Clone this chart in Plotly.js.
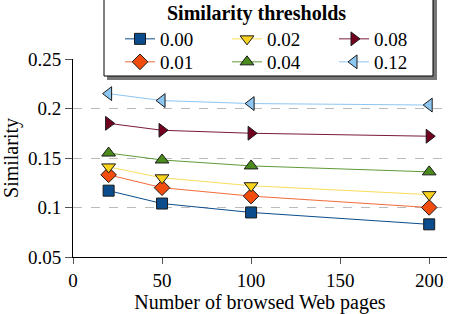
<!DOCTYPE html>
<html><head><meta charset="utf-8">
<script src="https://cdn.plot.ly/plotly-3.0.1.min.js"></script>
<style>html,body{margin:0;padding:0;background:#fff}#chart{width:450px;height:314px}</style>
</head><body><div id="chart"></div>
<script>
var pages = [20, 50, 100, 200];
var thresholds = ["0.00", "0.01", "0.02", "0.04", "0.08", "0.12"];
var sim000 = [0.117, 0.104, 0.095, 0.083];
var sim001 = [0.133, 0.120, 0.1115, 0.100];
var sim002 = [0.141, 0.130, 0.122, 0.113];
var sim004 = [0.155, 0.148, 0.142, 0.136];
var sim008 = [0.185, 0.178, 0.175, 0.172];
var sim012 = [0.215, 0.208, 0.205, 0.2035];

var seriesValues = [sim000, sim001, sim002, sim004, sim008, sim012];
var fills = ["#0a4c8c", "#f24d0f", "#f9d21d", "#4b8b1e", "#74001f", "#8ec6f2"];
var lines = ["#0a4c8c", "#f26b3a", "#f9dd5a", "#5f9a3a", "#7a1a3a", "#8ec6f2"];
var symbols = ["square", "diamond", "triangle-down", "triangle-up", "triangle-right", "triangle-left"];
var sizes = [11, 12, 12, 12, 12, 12];
var legendRow = ["legend", "legend2", "legend", "legend2", "legend", "legend2"];

var traces = seriesValues.map(function(v, i) {
  return {
    x: pages, y: v, name: thresholds[i], type: "scatter", mode: "lines+markers",
    line: {color: lines[i], width: 1},
    marker: {symbol: symbols[i], size: sizes[i], color: fills[i], line: {color: "#1a1a1a", width: 1}},
    legend: legendRow[i]
  };
});

var font = "Liberation Serif";
var fs = 19;
// pixel -> paper helpers for the legend frame (plot area: x 73..447, y 59..257)
function px(x) { return (x - 73) / 374; }
function py(y) { return (257 - y) / 198; }
function rowLegend(yc) {
  return {
    orientation: "h", x: px(120), xanchor: "left", y: py(yc), yanchor: "middle",
    bgcolor: "rgba(0,0,0,0)", borderwidth: 0,
    entrywidth: 62, entrywidthmode: "pixels",
    font: {family: font, size: 19}
  };
}
var layout = {
  width: 450, height: 314,
  margin: {l: 73, r: 3, t: 59, b: 57, autoexpand: false},
  paper_bgcolor: "#fff", plot_bgcolor: "#fff",
  font: {family: font, size: fs, color: "#000"},
  showlegend: true,
  xaxis: {
    range: [0, 210], tickvals: [0, 50, 100, 150, 200], ticktext: ["0", "50", "100", "150", "200"],
    showline: true, linecolor: "#000", linewidth: 1, ticks: "outside", ticklen: 6, tickcolor: "#555",
    showgrid: false, zeroline: false, automargin: false,
    title: {text: "Number of browsed Web pages", font: {family: font, size: 20}, standoff: 3}
  },
  yaxis: {
    range: [0.05, 0.25], tickvals: [0.05, 0.1, 0.15, 0.2, 0.25], ticktext: ["0.05", "0.1", "0.15", "0.2", "0.25"],
    showline: true, linecolor: "#000", linewidth: 1, ticks: "outside", ticklen: 7, tickcolor: "#555",
    showgrid: true, gridcolor: "#bbb", griddash: "dash", gridwidth: 1, zeroline: false, automargin: false,
    title: {text: "Similarity", font: {family: font, size: 20}, standoff: 5}
  },
  shapes: [
    {type: "rect", xref: "paper", yref: "paper", x0: px(107), x1: px(437), y0: py(80), y1: py(-2),
     fillcolor: "#777", line: {width: 0}, layer: "above"},
    {type: "rect", xref: "paper", yref: "paper", x0: px(104), x1: px(433), y0: py(76), y1: py(-2),
     fillcolor: "#fff", line: {color: "#000", width: 1}, layer: "above"}
  ],
  annotations: [
    {text: "<b>Similarity thresholds</b>", xref: "paper", yref: "paper", x: px(256), y: py(14),
     xanchor: "center", yanchor: "middle", showarrow: false, font: {family: font, size: 20, color: "#000"}}
  ],
  legend: rowLegend(39),
  legend2: rowLegend(62)
};
Plotly.newPlot("chart", traces, layout, {displayModeBar: false, staticPlot: true});
</script></body></html>
